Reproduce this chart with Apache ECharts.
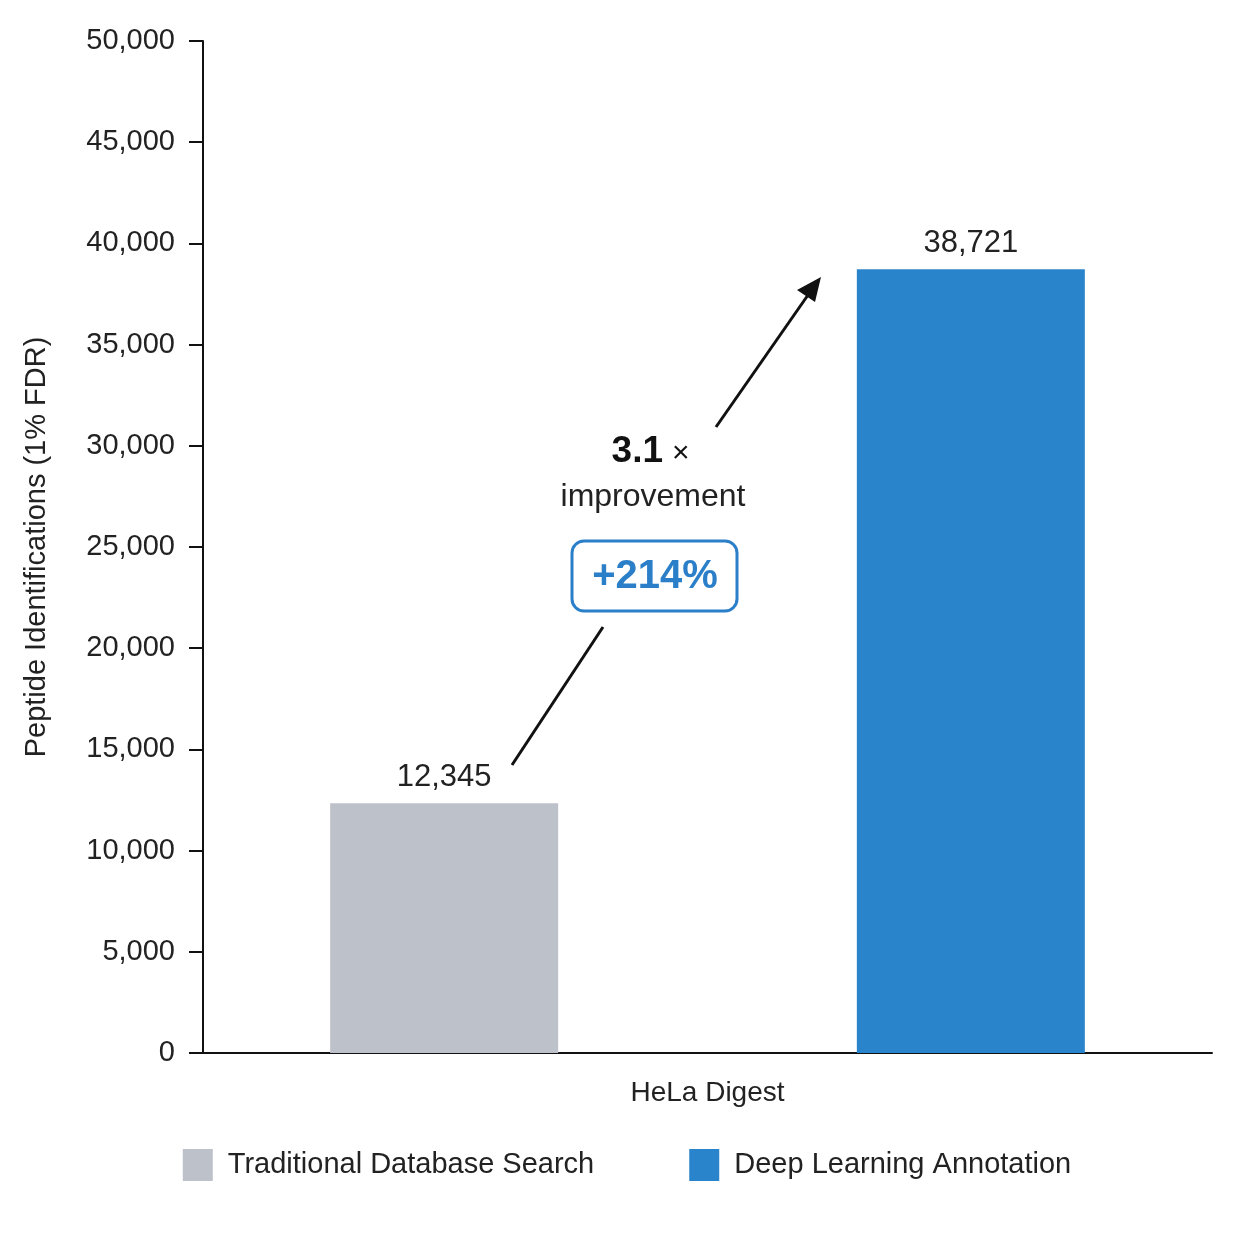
<!DOCTYPE html>
<html><head><meta charset="utf-8">
<script src="https://cdn.jsdelivr.net/npm/echarts@6/dist/echarts.min.js"></script>
<style>html,body{margin:0;background:#fff}#c{width:1254px;height:1254px}</style>
</head><body><div id="c"></div>
<script>
const categories = ['HeLa Digest'];
const seriesNames = ['Traditional Database Search', 'Deep Learning Annotation'];
const traditional = [12345];
const deepLearning = [38721];
const chart = echarts.init(document.getElementById('c'));
const F = 'Liberation Sans, Arial, sans-serif';
chart.setOption({
  animation: false,
  textStyle: {fontFamily: F},
  grid: {left: 203, right: 42, top: 41, bottom: 201},
  legend: {bottom: 68, left: 'center', itemGap: 95, itemWidth: 30, itemHeight: 32,
    textStyle: {fontSize: 29, color: '#222', fontFamily: F, padding: [0, 0, 0, 10]}, icon: 'rect', data: seriesNames},
  xAxis: {type: 'category', data: categories,
    axisLine: {lineStyle: {color: '#111', width: 2}}, axisTick: {show: false},
    axisLabel: {fontSize: 28, color: '#222', margin: 26}},
  yAxis: {type: 'value', min: 0, max: 50000, interval: 5000,
    name: 'Peptide Identifications (1% FDR)', nameLocation: 'middle', nameGap: 152,
    nameTextStyle: {fontSize: 29, color: '#222'},
    axisLine: {show: true, lineStyle: {color: '#111', width: 2}},
    axisTick: {show: true, length: 14, lineStyle: {color: '#111', width: 2}},
    splitLine: {show: false},
    axisLabel: {fontSize: 29, color: '#222', margin: 28,
      formatter: v => v.toLocaleString('en-US')}},
  series: [
    {name: seriesNames[0], type: 'bar', data: traditional, barWidth: 228, barGap: '131%',
     itemStyle: {color: '#BDC1C9'},
     label: {show: true, position: 'top', fontSize: 31, color: '#222', distance: 10,
       formatter: p => p.value.toLocaleString('en-US')}},
    {name: seriesNames[1], type: 'bar', data: deepLearning, barWidth: 228,
     itemStyle: {color: '#2A84CB'},
     label: {show: true, position: 'top', fontSize: 31, color: '#222', distance: 10,
       formatter: p => p.value.toLocaleString('en-US')}}
  ],
  graphic: [
    {type: 'line', shape: {x1: 512, y1: 765, x2: 603, y2: 627}, style: {stroke: '#111', lineWidth: 3}},
    {type: 'line', shape: {x1: 716, y1: 427, x2: 808, y2: 295}, style: {stroke: '#111', lineWidth: 3}},
    {type: 'polygon', shape: {points: [[821, 277], [797, 290], [815, 302]]}, style: {fill: '#111'}},
    {type: 'text', x: 663, y: 452, style: {text: '3.1', font: 'bold 37px ' + F, fill: '#111', align: 'right', verticalAlign: 'middle'}},
    {type: 'text', x: 672, y: 454, style: {text: '×', font: '30px ' + F, fill: '#111', align: 'left', verticalAlign: 'middle'}},
    {type: 'text', x: 653, y: 497, style: {text: 'improvement', font: '32px ' + F, fill: '#222', align: 'center', verticalAlign: 'middle'}},
    {type: 'rect', shape: {x: 572, y: 541, width: 165, height: 70, r: 12}, style: {fill: '#fff', stroke: '#2A7FC8', lineWidth: 3}},
    {type: 'text', x: 655, y: 577, style: {text: '+214%', font: 'bold 40px ' + F, fill: '#2A7FC8', align: 'center', verticalAlign: 'middle'}}
  ]
});
</script></body></html>
